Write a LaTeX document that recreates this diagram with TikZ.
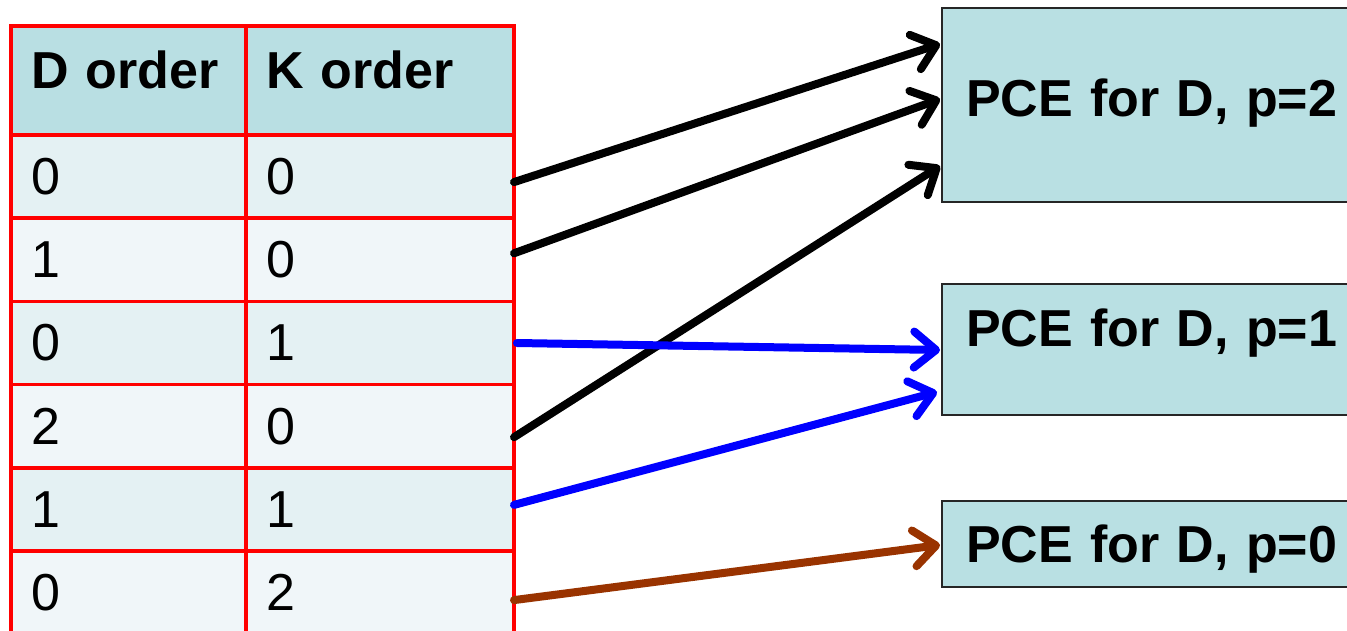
\documentclass[tikz,border=0pt]{standalone}
\usepackage{fontspec}
\setmainfont{Liberation Sans}
\usetikzlibrary{arrows.meta}
\definecolor{headfill}{HTML}{B9DFE3}
\definecolor{banddark}{HTML}{E4F1F3}
\definecolor{bandlight}{HTML}{F0F6F9}
\definecolor{boxfill}{HTML}{B9E0E3}
\definecolor{rust}{HTML}{993300}
\begin{document}
\begin{tikzpicture}[x=1pt,y=-1pt,
  every node/.style={outer sep=0pt},
  cell/.style={draw=red, line width=3.5pt, anchor=north west, inner ysep=0pt,
    inner xsep=20pt, align=left, font=\fontsize{52}{60}\selectfont},
  colD/.style={cell, text width=195pt, minimum width=235pt},
  colK/.style={cell, text width=228pt, minimum width=268pt},
  head/.style={fill=headfill, minimum height=109pt, text height=38pt, text depth=22pt,
    font=\fontsize{52}{60}\selectfont\bfseries},
  rowA/.style={fill=banddark, minimum height=83.2pt},
  rowB/.style={fill=bandlight, minimum height=83.2pt},
  pce/.style={draw=black!85, line width=2.5pt, fill=boxfill, anchor=north west,
    inner xsep=24pt, inner ysep=0pt, text width=396pt, align=left,
    text height=37pt, font=\fontsize{52}{60}\selectfont\bfseries},
  link/.style={line width=8pt, line cap=round,
    -{Straight Barb[length=22pt,width=36pt,line cap=round,line join=round]}}
]
\useasboundingbox (0,0) rectangle (1347,631);

% order table
\node[colD, head] (hd) at (11,26) {D order};
\node[colK, head] (hk) at (246,26) {K order};
\node[colD, rowA] (r1d) at (11,135)   {0};
\node[colK, rowA] (r1k) at (246,135)  {0};
\node[colD, rowB] (r2d) at (11,218.2) {1};
\node[colK, rowB] (r2k) at (246,218.2){0};
\node[colD, rowA] (r3d) at (11,301.4) {0};
\node[colK, rowA] (r3k) at (246,301.4){1};
\node[colD, rowB] (r4d) at (11,384.6) {2};
\node[colK, rowB] (r4k) at (246,384.6){0};
\node[colD, rowA] (r5d) at (11,467.8) {1};
\node[colK, rowA] (r5k) at (246,467.8){1};
\node[colD, rowB] (r6d) at (11,551)   {0};
\node[colK, rowB] (r6k) at (246,551)  {2};

% expansion boxes
\node[pce, minimum height=194pt, text depth=14pt] (p2) at (942,8)   {PCE for D, p=2};
\node[pce, minimum height=131pt, text depth=44pt] (p1) at (942,284) {PCE for D, p=1};
\node[pce, minimum height=86pt,  text depth=0pt]  (p0) at (942,501) {PCE for D, p=0};

% arrival points on the boxes
\coordinate (p2a) at (940,44);
\coordinate (p2b) at (940,99);
\coordinate (p2c) at (940,166);
\coordinate (p1a) at (940,350);
\coordinate (p1b) at (937,392);
\coordinate (p0a) at (940,545);

% connectors
\draw[link, black] ([yshift=-5.5pt]r1k.east) -- (p2a);
\draw[link, black] ([yshift=6.5pt]r2k.east) -- (p2b);
\draw[link, black] ([yshift=-11pt]r4k.east) -- (p2c);
\draw[link, blue]  ([xshift=3pt]r3k.east) -- (p1a);
\draw[link, blue]  ([yshift=4.5pt]r5k.east) -- (p1b);
\draw[link, rust]  ([yshift=-7.5pt]r6k.east) -- (p0a);
\end{tikzpicture}
\end{document}
